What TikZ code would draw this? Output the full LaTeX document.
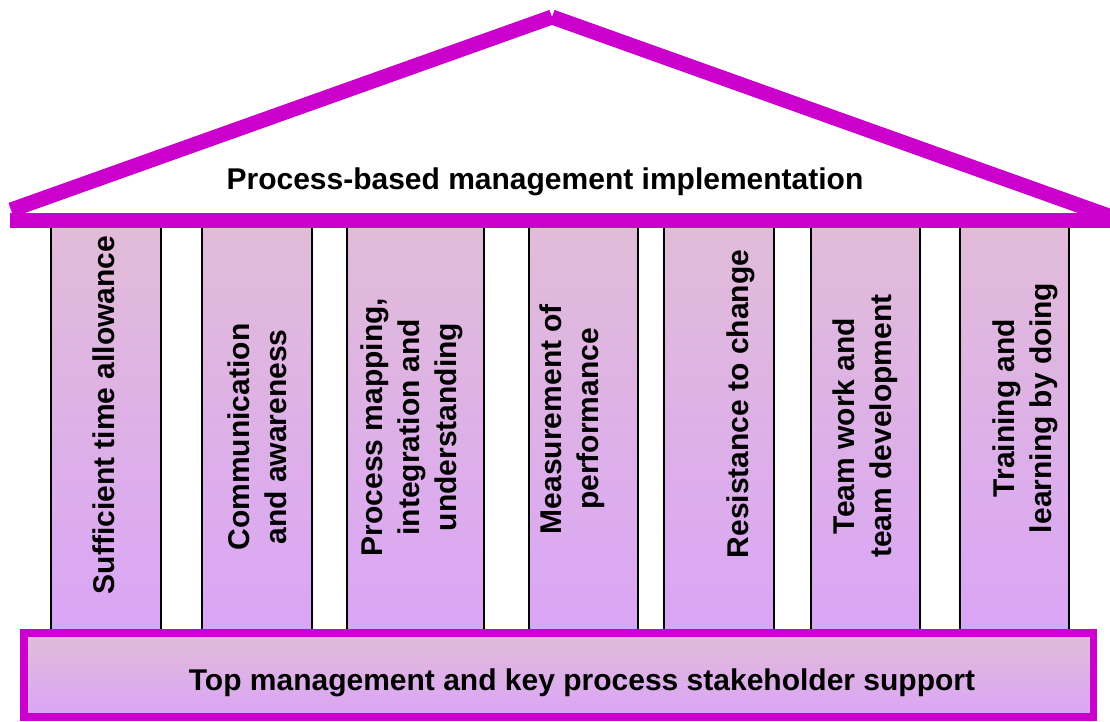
\documentclass[tikz,border=0pt]{standalone}
\usepackage{fontspec}
\setmainfont{Liberation Sans}
\usepackage{xcolor}

\definecolor{roofpink}{HTML}{CC00CC}
\definecolor{pinktop}{HTML}{E1BCD8}
\definecolor{lilacbottom}{HTML}{DAA5F6}

\tikzset{
    beam/.style={line width=15pt, roofpink},
    pillar/.style={draw=black, line width=1.5pt, top color=pinktop, bottom color=lilacbottom},
    plinth/.style={draw=roofpink, line width=7.5pt, top color=pinktop, bottom color=lilacbottom},
    pillartext/.style={rotate=90, align=center, font=\fontsize{30}{37}\selectfont\bfseries},
    bigtext/.style={anchor=base, font=\fontsize{30}{36}\selectfont\bfseries}
}

\begin{document}
\begin{tikzpicture}[x=1pt,y=-1pt]
        \useasboundingbox (0,0) rectangle (1110,721);
        \clip (0,0) rectangle (1110,721);

        \coordinate (L) at (11,210);
        \coordinate (A) at (552,17);
        \coordinate (R) at (1120,220);
        \coordinate (BL) at (10,220);
        \coordinate (BR) at (1120,220);

        % pillars
        \shade[pillar] (51,227) rectangle (161,630);
        \shade[pillar] (202,227) rectangle (312,630);
        \shade[pillar] (347,227) rectangle (484,630);
        \shade[pillar] (529,227) rectangle (638,630);
        \shade[pillar] (664,227) rectangle (774,630);
        \shade[pillar] (811,227) rectangle (920,630);
        \shade[pillar] (960,227) rectangle (1069,630);

        \node[pillartext] (P1) at (104,415) {Sufficient time allowance};
        \node[pillartext] (P2) at (257,437) {Communication\\and awareness};
        \node[pillartext] (P3) at (412,427) {Process mapping,\\integration and\\understanding};
        \node[pillartext] (P4) at (572,419) {Measurement of\\performance};
        \node[pillartext] (P5) at (741,404) {Resistance to change};
        \node[pillartext] (P6) at (865.5,426) {Team work and\\team development};
        \node[pillartext] (P7) at (1025,408) {Training and\\learning by doing};

        % base
        \shade[plinth] (23.75,632.75) rectangle (1093.25,716.75);
        \node[bigtext] (S) at (582,690) {Top management and key process stakeholder support};

        % roof
        \draw[beam] (L) -- (A);
        \draw[beam] (A) -- (R);
        \draw[beam] (BL) -- (BR);
        \node[bigtext] (M) at (545,189) {Process-based management implementation};
\end{tikzpicture}
\end{document}
